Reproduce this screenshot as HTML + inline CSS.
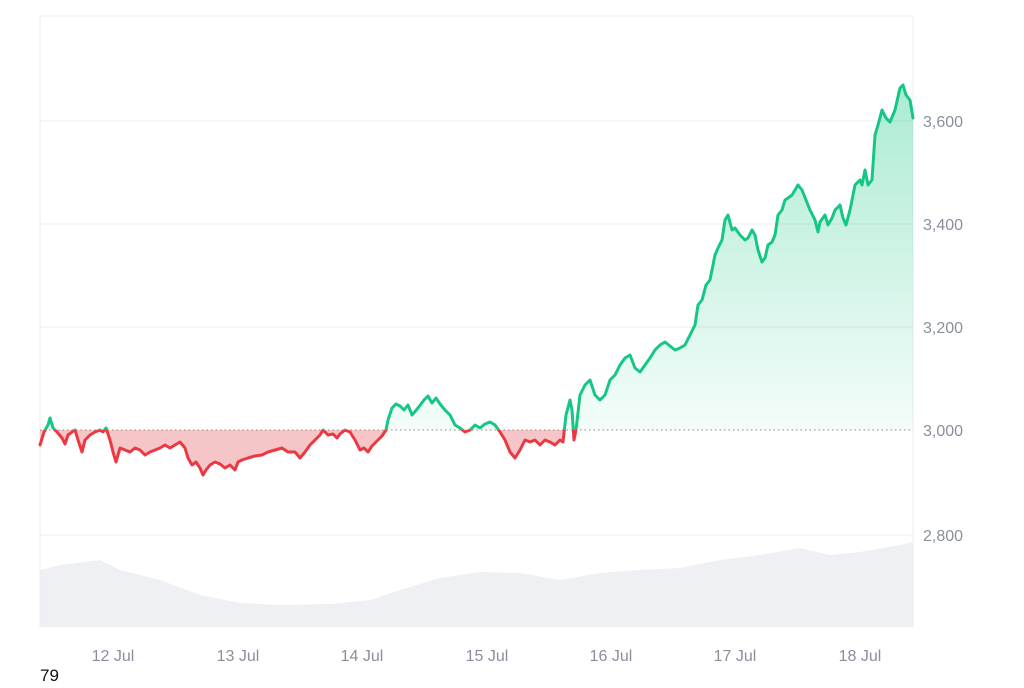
<!DOCTYPE html>
<html><head><meta charset="utf-8"><style>
body{margin:0;background:#fff;width:1024px;height:683px;overflow:hidden;font-family:"Liberation Sans",sans-serif}
</style></head><body>
<svg width="1024" height="683" viewBox="0 0 1024 683" xmlns="http://www.w3.org/2000/svg">
<defs>
<linearGradient id="gg" gradientUnits="userSpaceOnUse" x1="0" y1="90" x2="0" y2="430">
<stop offset="0" stop-color="#16c784" stop-opacity="0.35"/><stop offset="1" stop-color="#16c784" stop-opacity="0.05"/>
</linearGradient>
<clipPath id="above"><rect x="0" y="0" width="1024" height="430"/></clipPath>
<clipPath id="below"><rect x="0" y="430" width="1024" height="300"/></clipPath>
<polyline id="ln" points="40,445 44,432 48,425 50,418 53,428 57,432 62,438 65,444 68,435 72,432 75,430 78,440 82,452 85,440 90,435 95,432 100,430 103,432 106,428 110,440 113,452 116,462 118,455 120,448 125,450 130,452 135,448 140,450 145,455 150,452 155,450 160,448 165,445 170,448 175,445 180,442 185,448 188,458 192,465 196,462 200,468 203,475 206,470 210,465 215,462 220,464 225,468 230,465 235,470 238,462 242,460 248,458 255,456 262,455 268,452 275,450 282,448 288,452 295,452 300,458 305,452 310,445 315,440 320,435 323,430 328,435 333,434 337,438 340,434 345,430 350,432 355,440 360,450 364,448 368,452 372,446 378,440 382,436 386,430 388,420 392,408 396,404 400,406 404,410 408,405 412,415 418,408 424,400 428,396 432,403 436,398 440,404 445,410 450,415 455,425 460,428 465,432 470,430 475,425 480,428 485,424 490,422 495,425 500,432 505,440 510,452 515,458 520,450 525,440 530,442 535,440 540,445 545,440 550,442 555,445 560,440 563,442 566,415 570,400 572,410 574,440 576,430 580,395 585,385 590,380 595,395 600,400 605,395 610,380 615,375 620,365 625,358 630,355 635,368 640,372 645,365 650,358 655,350 660,345 665,342 670,346 675,350 680,348 685,345 690,335 695,325 698,305 702,300 706,285 710,280 712,270 715,255 718,248 722,240 725,220 728,215 732,230 735,228 740,235 745,240 748,238 752,230 755,235 758,250 762,262 765,258 768,245 772,242 775,235 778,215 782,210 785,200 788,198 792,195 795,190 798,185 802,190 806,200 810,210 815,220 818,232 820,222 825,215 828,225 832,218 835,210 840,205 843,218 846,225 850,210 855,185 860,180 862,185 865,170 868,185 872,180 875,135 878,125 882,110 886,118 890,122 895,110 900,88 903,85 906,95 910,100 913,118"/>
</defs>
<polygon fill="#eef0f3" points="40,627 40,570 60,565 100,560 120,570 160,580 200,595 240,603 280,605 330,604 370,600 400,590 440,578 480,572 520,573 560,580 600,573 640,570 680,568 720,560 760,555 800,548 830,555 860,552 900,545 913,542 913,627"/>
<g stroke="#ececec" stroke-width="1">
<line x1="40" y1="121" x2="913" y2="121"/><line x1="40" y1="224" x2="913" y2="224"/><line x1="40" y1="327" x2="913" y2="327"/><line x1="40" y1="535" x2="913" y2="535"/>
<line x1="40" y1="16" x2="913" y2="16"/><line x1="40" y1="16" x2="40" y2="627"/><line x1="913" y1="16" x2="913" y2="627"/>
</g>
<polygon clip-path="url(#above)" fill="url(#gg)" points="40,430 40,445 44,432 48,425 50,418 53,428 57,432 62,438 65,444 68,435 72,432 75,430 78,440 82,452 85,440 90,435 95,432 100,430 103,432 106,428 110,440 113,452 116,462 118,455 120,448 125,450 130,452 135,448 140,450 145,455 150,452 155,450 160,448 165,445 170,448 175,445 180,442 185,448 188,458 192,465 196,462 200,468 203,475 206,470 210,465 215,462 220,464 225,468 230,465 235,470 238,462 242,460 248,458 255,456 262,455 268,452 275,450 282,448 288,452 295,452 300,458 305,452 310,445 315,440 320,435 323,430 328,435 333,434 337,438 340,434 345,430 350,432 355,440 360,450 364,448 368,452 372,446 378,440 382,436 386,430 388,420 392,408 396,404 400,406 404,410 408,405 412,415 418,408 424,400 428,396 432,403 436,398 440,404 445,410 450,415 455,425 460,428 465,432 470,430 475,425 480,428 485,424 490,422 495,425 500,432 505,440 510,452 515,458 520,450 525,440 530,442 535,440 540,445 545,440 550,442 555,445 560,440 563,442 566,415 570,400 572,410 574,440 576,430 580,395 585,385 590,380 595,395 600,400 605,395 610,380 615,375 620,365 625,358 630,355 635,368 640,372 645,365 650,358 655,350 660,345 665,342 670,346 675,350 680,348 685,345 690,335 695,325 698,305 702,300 706,285 710,280 712,270 715,255 718,248 722,240 725,220 728,215 732,230 735,228 740,235 745,240 748,238 752,230 755,235 758,250 762,262 765,258 768,245 772,242 775,235 778,215 782,210 785,200 788,198 792,195 795,190 798,185 802,190 806,200 810,210 815,220 818,232 820,222 825,215 828,225 832,218 835,210 840,205 843,218 846,225 850,210 855,185 860,180 862,185 865,170 868,185 872,180 875,135 878,125 882,110 886,118 890,122 895,110 900,88 903,85 906,95 910,100 913,118 913,430"/>
<polygon clip-path="url(#below)" fill="#f5c5c7" points="40,430 40,445 44,432 48,425 50,418 53,428 57,432 62,438 65,444 68,435 72,432 75,430 78,440 82,452 85,440 90,435 95,432 100,430 103,432 106,428 110,440 113,452 116,462 118,455 120,448 125,450 130,452 135,448 140,450 145,455 150,452 155,450 160,448 165,445 170,448 175,445 180,442 185,448 188,458 192,465 196,462 200,468 203,475 206,470 210,465 215,462 220,464 225,468 230,465 235,470 238,462 242,460 248,458 255,456 262,455 268,452 275,450 282,448 288,452 295,452 300,458 305,452 310,445 315,440 320,435 323,430 328,435 333,434 337,438 340,434 345,430 350,432 355,440 360,450 364,448 368,452 372,446 378,440 382,436 386,430 388,420 392,408 396,404 400,406 404,410 408,405 412,415 418,408 424,400 428,396 432,403 436,398 440,404 445,410 450,415 455,425 460,428 465,432 470,430 475,425 480,428 485,424 490,422 495,425 500,432 505,440 510,452 515,458 520,450 525,440 530,442 535,440 540,445 545,440 550,442 555,445 560,440 563,442 566,415 570,400 572,410 574,440 576,430 580,395 913,395 913,430"/>
<line x1="40" y1="430" x2="913" y2="430" stroke="#888" stroke-width="1" stroke-dasharray="1.5,3"/>
<g fill="none" stroke-width="3" stroke-linejoin="round" stroke-linecap="round">
<use href="#ln" clip-path="url(#above)" stroke="#16c784"/>
<use href="#ln" clip-path="url(#below)" stroke="#ea3943"/>
</g>
<g fill="#8a8f9c" font-size="16">
<text x="923" y="127">3,600</text><text x="923" y="230">3,400</text><text x="923" y="333">3,200</text><text x="923" y="436">3,000</text><text x="923" y="541">2,800</text>
<g text-anchor="middle"><text x="113" y="661">12 Jul</text><text x="238" y="661">13 Jul</text><text x="362" y="661">14 Jul</text><text x="487" y="661">15 Jul</text><text x="611" y="661">16 Jul</text><text x="735" y="661">17 Jul</text><text x="860" y="661">18 Jul</text></g>
</g>
<text x="40" y="681" font-size="17" fill="#111">79</text>
</svg>
</body></html>
